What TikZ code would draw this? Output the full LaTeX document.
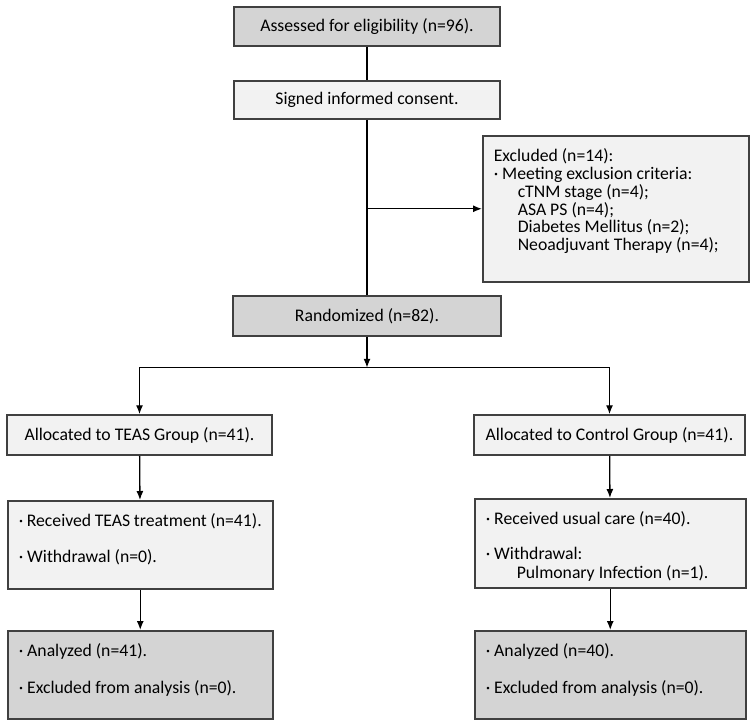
\documentclass[tikz,border=0pt]{standalone}
\usepackage{fontspec}
\setmainfont{Carlito}
\usetikzlibrary{positioning, calc, arrows.meta}
\definecolor{grey212}{RGB}{212,212,212}
\definecolor{grey242}{RGB}{242,242,242}
\definecolor{edge64}{RGB}{64,64,64}
\newcommand{\boxtext}[3]{\parbox[t][#2][t]{#1}{\raggedright #3}}
\newcommand{\pt}{\textperiodcentered\ }

\begin{document}
\begin{tikzpicture}[
          x = 1pt, y = -1pt,
          font = \fontsize{17.7pt}{17.8pt}\selectfont,
          box/.style = {draw = edge64, line width = 1.5pt, inner xsep = 11pt},
          darkbox/.style = {box, fill = grey212},
          lightbox/.style = {box, fill = grey242},
          listbox/.style = {inner ysep = 13pt, anchor = north west},
          flow/.style = {draw, line width = 1.3pt, -{Latex[length = 9pt, width = 7pt]}},
          link/.style = {draw, line width = 1.3pt}
        ]
          \useasboundingbox (0,0) rectangle (750,724);
          % place nodes
          \path node (assess) [darkbox, minimum width = 266pt, minimum height = 39pt] at (367,26.5) {Assessed for eligibility (n=96).};
          \path node (signed) [lightbox, minimum width = 266pt, minimum height = 38pt] at (367,100) {Signed informed consent.};
          \path node (excl) [lightbox, listbox] at (482,135)
            {\boxtext{244pt}{120pt}{Excluded (n=14):\\
              \pt Meeting exclusion criteria:\\
              \hspace*{24pt}cTNM stage (n=4);\\
              \hspace*{24pt}ASA PS (n=4);\\
              \hspace*{24pt}Diabetes Mellitus (n=2);\\
              \hspace*{24pt}Neoadjuvant Therapy (n=4);}};
          \path node (random) [darkbox, minimum width = 268pt, minimum height = 40pt] at (367,316) {Randomized (n=82).};
          \path node (teasalloc) [lightbox, minimum width = 265pt, minimum height = 40pt] at (139.5,435) {Allocated to TEAS Group (n=41).};
          \path node (ctrlalloc) [lightbox, minimum width = 271pt, minimum height = 40pt] at (609.5,435) {Allocated to Control Group (n=41).};
          \path node (teascare) [lightbox, listbox] at (7,500)
            {\boxtext{243pt}{62pt}{\pt Received TEAS treatment (n=41).\\[18pt]
              \pt Withdrawal (n=0).}};
          \path node (ctrlcare) [lightbox, listbox] at (474,498)
            {\boxtext{249pt}{63pt}{\pt Received usual care (n=40).\\[17pt]
              \pt Withdrawal:\\[1pt]
              \hspace*{31pt}Pulmonary Infection (n=1).}};
          \path node (teasdone) [darkbox, listbox] at (7,630)
            {\boxtext{243pt}{62pt}{\pt Analyzed (n=41).\\[19pt]
              \pt Excluded from analysis (n=0).}};
          \path node (ctrldone) [darkbox, listbox] at (474,630)
            {\boxtext{249pt}{62pt}{\pt Analyzed (n=40).\\[19pt]
              \pt Excluded from analysis (n=0).}};
          % place edges
          \coordinate (branch) at (signed.south |- excl.west);
          \coordinate (split) at ($(random.south) + (0,31)$);
          \draw [link] (assess) -- (signed);
          \draw [link] (signed) -- (random);
          \draw [flow] (branch) -- (excl.west);
          \draw [flow] (random) -- (split);
          \foreach \x in {teasalloc, ctrlalloc}
            { \draw [flow] (split) -| (\x.north) ; } ;
          \draw [flow] (teasalloc) -- (teascare);
          \draw [flow] (ctrlalloc) -- (ctrlcare);
          \draw [flow] (teascare) -- (teasdone);
          \draw [flow] (ctrlcare) -- (ctrldone);
        \end{tikzpicture}
\end{document}
